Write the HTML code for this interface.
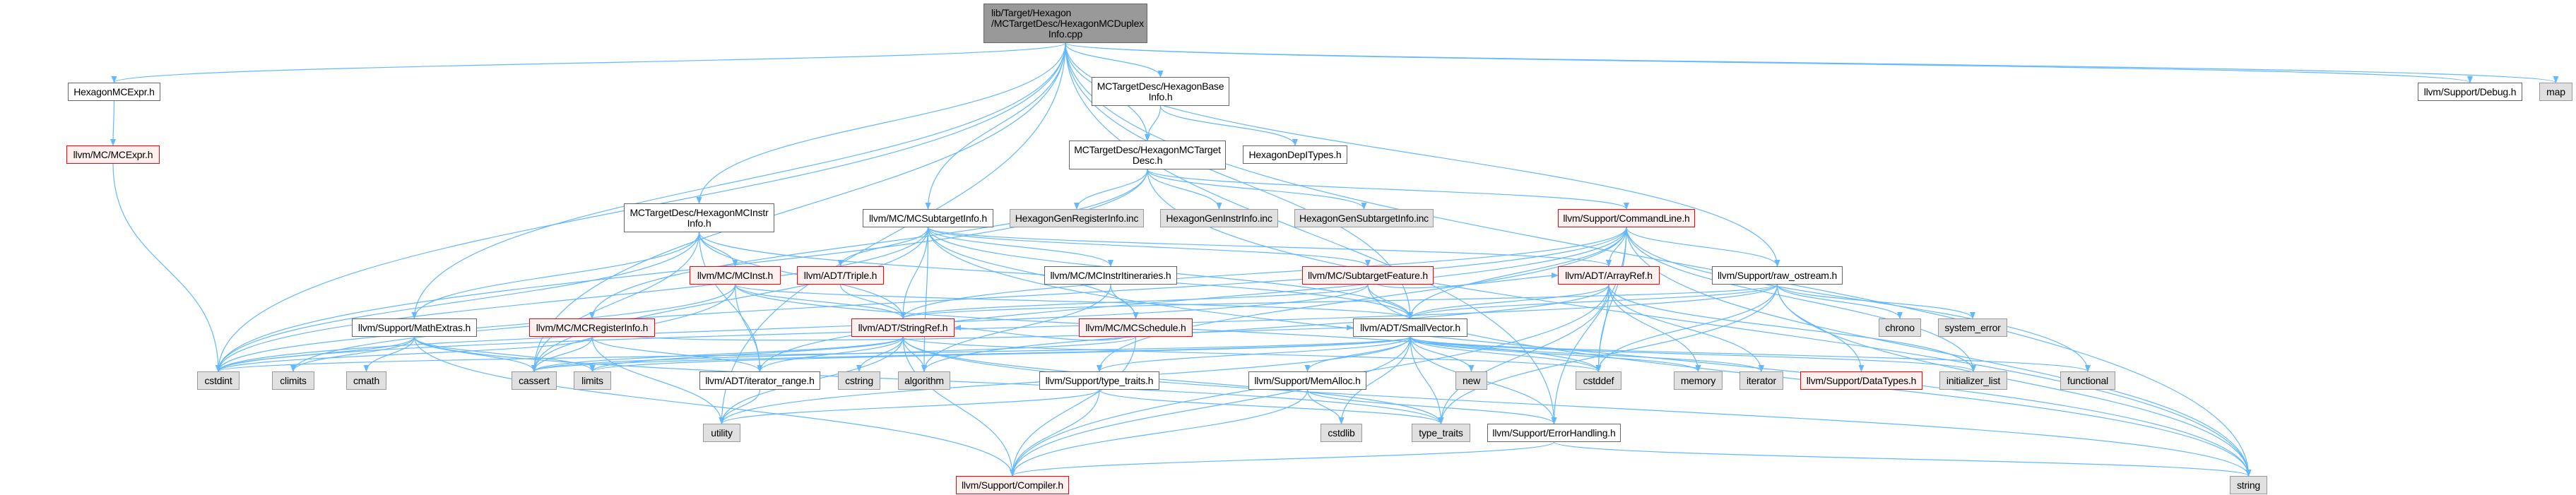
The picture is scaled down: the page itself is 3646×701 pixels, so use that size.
<!DOCTYPE html>
<html><head><meta charset="utf-8"><style>
html,body{margin:0;padding:0;background:#fff;}
#c{position:relative;width:3646px;height:701px;overflow:hidden;font-family:"Liberation Sans",Arial,sans-serif;}
svg{position:absolute;left:0;top:0;}
.n{position:absolute;box-sizing:border-box;border:1px solid #666;background:#fff;font-size:14px;line-height:15px;color:#000;text-align:center;display:flex;flex-direction:column;justify-content:center;white-space:nowrap;letter-spacing:-0.2px;}
.g{background:#e0e0e0;border-color:#999;}
.r{background:#fff0f0;border-color:#f00;}
.t{background:#999;border-color:#666;text-align:left;padding-left:10px;}
</style></head><body><div id="c">
<svg id="s" width="3646" height="701" xmlns="http://www.w3.org/2000/svg">
<defs><marker id="a" markerWidth="10" markerHeight="8" refX="9" refY="4" orient="auto" markerUnits="userSpaceOnUse"><path d="M0,0 L10,4 L0,8 z" fill="#63b8ff"/></marker></defs>
<g id="e" fill="none" stroke="#63b8ff" stroke-width="1.2"></g>
</svg>
<div id="nodes"></div>
</div>
<script>
var N={
top:[1392,5,232,56,'t','lib/Target/Hexagon<br>/MCTargetDesc/HexagonMCDuplex<br><span style="display:block;text-align:center;margin-left:-10px">Info.cpp</span>'],
hmcexpr:[96,117,131,26,'','HexagonMCExpr.h'],
mcexpr:[94,206,132,26,'r','llvm/MC/MCExpr.h'],
basei:[1545,109,195,41,'','MCTargetDesc/HexagonBase<br>Info.h'],
tdesc:[1513,199,222,41,'','MCTargetDesc/HexagonMCTarget<br>Desc.h'],
dep:[1759,206,148,26,'','HexagonDepITypes.h'],
instrinfo:[883,288,213,41,'','MCTargetDesc/HexagonMCInstr<br>Info.h'],
subinfo:[1221,296,185,26,'','llvm/MC/MCSubtargetInfo.h'],
genreg:[1429,296,190,26,'g','HexagonGenRegisterInfo.inc'],
geninstr:[1642,296,167,26,'g','HexagonGenInstrInfo.inc'],
gensub:[1832,296,197,26,'g','HexagonGenSubtargetInfo.inc'],
cmdline:[2205,296,194,26,'r','llvm/Support/CommandLine.h'],
mcinst:[976,377,129,26,'r','llvm/MC/MCInst.h'],
triple:[1128,377,123,26,'r','llvm/ADT/Triple.h'],
itin:[1478,377,188,26,'','llvm/MC/MCInstrItineraries.h'],
subfeat:[1843,377,186,26,'r','llvm/MC/SubtargetFeature.h'],
arrayref:[2205,377,144,26,'r','llvm/ADT/ArrayRef.h'],
rawos:[2423,377,185,26,'','llvm/Support/raw_ostream.h'],
mathx:[498,451,177,26,'','llvm/Support/MathExtras.h'],
mcreg:[749,451,178,26,'r','llvm/MC/MCRegisterInfo.h'],
strref:[1205,451,146,26,'r','llvm/ADT/StringRef.h'],
sched:[1527,451,161,26,'r','llvm/MC/MCSchedule.h'],
smallvec:[1915,451,162,26,'','llvm/ADT/SmallVector.h'],
chrono:[2659,451,60,26,'g','chrono'],
syserr:[2743,451,98,26,'g','system_error'],
cstdint:[279,526,60,26,'g','cstdint'],
climits:[385,526,60,26,'g','climits'],
cmath:[490,526,57,26,'g','cmath'],
cassert:[724,526,64,26,'g','cassert'],
limits:[812,526,53,26,'g','limits'],
iterrange:[990,526,171,26,'','llvm/ADT/iterator_range.h'],
cstring:[1186,526,60,26,'g','cstring'],
algorithm:[1271,526,74,26,'g','algorithm'],
ttraitsh:[1471,526,170,26,'','llvm/Support/type_traits.h'],
memalloc:[1767,526,167,26,'','llvm/Support/MemAlloc.h'],
nw:[2060,526,45,26,'g','new'],
cstddef:[2230,526,65,26,'g','cstddef'],
memory:[2369,526,69,26,'g','memory'],
iterator:[2462,526,62,26,'g','iterator'],
datatypes:[2548,526,173,26,'r','llvm/Support/DataTypes.h'],
initlist:[2745,526,96,26,'g','initializer_list'],
functional:[2916,526,78,26,'g','functional'],
utility:[995,600,53,26,'g','utility'],
cstdlib:[1869,600,59,26,'g','cstdlib'],
ttraits:[1998,600,83,26,'g','type_traits'],
errh:[2105,600,189,26,'','llvm/Support/ErrorHandling.h'],
compiler:[1353,674,160,26,'r','llvm/Support/Compiler.h'],
string:[3156,674,53,26,'g','string'],
debug:[3422,117,148,26,'','llvm/Support/Debug.h'],
map:[3594,117,47,26,'g','map']
};
var h='';
for(var k in N){var n=N[k];h+='<div class="n '+n[4]+'" style="left:'+n[0]+'px;top:'+n[1]+'px;width:'+n[2]+'px;height:'+n[3]+'px">'+(n[4]=='t'?'<div>'+n[5]+'</div>':n[5])+'</div>';}
document.getElementById('nodes').innerHTML=h;
var E={
top:['hmcexpr','instrinfo','subinfo','tdesc','basei','debug','map','cstdint','utility','cassert','mathx','smallvec','rawos','errh','string'],
hmcexpr:['mcexpr'],mcexpr:['cstdint'],
basei:['tdesc','dep'],
tdesc:['genreg','geninstr','gensub','cmdline','cstdint','mcreg','string'],
instrinfo:['mcinst','mathx','cstdint','cassert','iterrange','smallvec','strref'],
subinfo:['triple','strref','itin','subfeat','sched','arrayref','algorithm','cassert','cstdint','string','smallvec'],
cmdline:['arrayref','rawos','smallvec','strref','cstddef','functional','initlist','errh','string','iterrange','ttraitsh','climits'],
mcinst:['strref','cstdint','cassert','cstddef','iterrange','smallvec'],
triple:['strref'],itin:['sched','algorithm'],
subfeat:['strref','arrayref','cstdint','string','smallvec'],
arrayref:['cstddef','memory','iterator','initlist','smallvec','compiler','algorithm','ttraits'],
rawos:['smallvec','strref','cstddef','chrono','syserr','datatypes','string','ttraits','cstdint'],
mathx:['compiler','cassert','climits','cmath','cstdint','limits','ttraits'],
mcreg:['cassert','cstdint','iterrange','utility','smallvec'],
strref:['compiler','iterrange','algorithm','cassert','cstddef','cstring','limits','string','ttraits','utility'],
sched:['cassert','compiler','strref'],
smallvec:['compiler','ttraitsh','memalloc','nw','cstddef','memory','iterator','initlist','functional','cassert','limits','cstdlib','ttraits','utility','errh','cstdint'],
iterrange:['utility'],ttraitsh:['compiler','ttraits','utility'],
memalloc:['compiler','cstdlib','errh'],errh:['compiler','string']
};
var p='';
for(var s in E){var a=N[s];E[s].forEach(function(t){var b=N[t];
var sx=a[0]+a[2]/2,sy=a[1]+a[3],tx=b[0]+b[2]/2,ty=b[1],d;
if(b[1]>a[1]+a[3]){var dy=ty-sy;d='M'+sx+','+sy+' C'+sx+','+(sy+dy*0.5)+' '+tx+','+(ty-dy*0.5)+' '+tx+','+ty;}
else{sy=a[1]+a[3]/2;ty=b[1]+b[3]/2;tx=(tx>sx)?b[0]:b[0]+b[2];d='M'+sx+','+sy+' C'+sx+','+(sy+40)+' '+(tx+(tx>sx?-40:40))+','+ty+' '+tx+','+ty;}
p+='<path d="'+d+'" marker-end="url(#a)"/>';});}
document.getElementById('e').innerHTML=p;
</script>
</body></html>
